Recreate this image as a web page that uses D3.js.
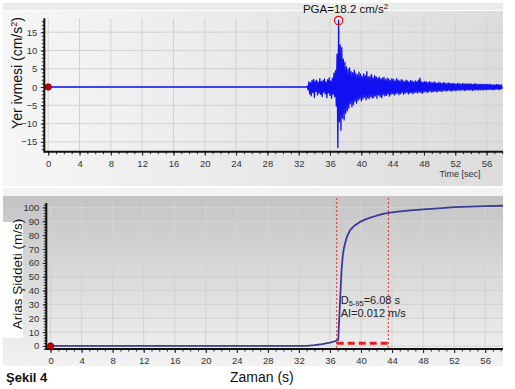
<!DOCTYPE html>
<html><head><meta charset="utf-8">
<script src="https://cdn.jsdelivr.net/npm/d3@7"></script>
<style>
body{margin:0;background:#fff}
svg{display:block}
text{font-family:"Liberation Sans",Arial,sans-serif}
</style>
</head><body>
<svg id="c" width="515" height="389"></svg>
<script>
// ---------- data ----------
const xTickLabels = [0,4,8,12,16,20,24,28,32,36,40,44,48,52,56];
const accYTicks = [-15,-10,-5,0,5,10,15];
const ariasYTicks = [0,10,20,30,40,50,60,70,80,90,100];

// ground acceleration record (cm/s2), sampled every 0.1 s from 33.0 s
const accStart = 33.0, accStep = 0.1;
const accValues = [
 0,0.2,-0.8,1.4,-1.9,1.2,-2.4,1.8,-1.5,2.1,
 -2.8,1.6,-1.2,1.9,-2.2,1.3,-1.7,2.3,-2.0,1.5,
 -2.6,1.8,-1.4,2.2,-1.9,1.4,-2.9,2.0,-1.6,2.5,
 -2.3,1.7,-3.1,2.4,-2.0,3.8,-2.6,4.5,-5.2,9.0,
 -16.6,18.2,-9.5,11.5,-11.8,10.8,-8.5,7.6,-9.0,6.8,
 -7.2,5.5,-6.5,4.8,-5.8,5.2,-4.6,4.2,-5.4,3.9,
 -4.8,4.6,-3.9,3.7,-4.4,3.3,-3.6,4.1,-3.2,3.5,
 -3.8,2.9,-3.3,3.6,-2.8,3.1,-3.5,4.2,-2.9,2.7,
 -3.2,3.0,-2.6,3.4,-3.0,2.5,-2.8,3.1,-2.4,2.8,
 -3.1,2.4,-2.2,2.7,-2.6,2.2,-2.9,2.5,-2.1,2.6,
 -2.4,2.0,-2.3,2.4,-1.9,2.2,-2.5,1.8,-2.0,2.3,
 -1.8,2.1,-2.2,1.7,-1.9,2.3,-1.6,1.9,-2.1,1.6,
 -1.8,2.0,-1.5,1.8,-2.0,1.5,-1.7,1.9,-1.4,1.7,
 -1.9,1.4,-1.6,1.8,-1.5,1.6,-1.8,1.4,-1.5,1.7,
 -1.4,1.5,-1.6,1.9,-1.3,2.4,-1.5,1.4,-1.7,1.3,
 -1.4,1.5,-1.2,1.4,-1.5,1.2,-1.3,1.5,-1.1,1.3,
 -1.4,1.1,-1.2,1.4,-1.1,1.2,-1.3,1.0,-1.2,1.3,
 -1.0,1.1,-1.2,1.0,-1.1,1.2,-0.9,1.1,-1.1,0.9,
 -1.0,1.1,-0.9,1.0,-1.0,0.9,-1.1,1.0,-0.8,0.9,
 -1.0,0.8,-0.9,1.0,-0.8,0.9,-0.9,0.8,-0.8,0.9,
 -0.8,0.9,-0.9,0.8,-0.8,0.9,-0.8,0.8,-0.8,0.9,
 -0.8,0.8,-0.9,0.7,-0.8,0.9,-0.7,0.8,-0.8,0.7,
 -0.8,0.7,-0.7,0.8,-0.7,0.7,-0.8,0.7,-0.7,0.7,
 -0.7,0.7,-0.7,0.7,-0.6,0.7,-0.7,0.6,-0.7,0.6,
 -0.7,0.6,-0.6,0.7,-0.6,0.6,-0.7,0.6,-0.6,0.6,
 -0.5
];
const pgaTime = 37.1, pgaValue = 18.2;

// Arias intensity (% of final)
const ariasTime  = [0,33.0,34.0,35.0,36.0,36.6,37.07,37.15,37.25,37.35,37.45,37.5,37.65,37.8,37.95,38.2,38.6,39.2,39.9,40.5,41.2,42.0,43.0,43.5,44.5,46.0,48.0,50.0,52.0,54.0,56.0,58.3];
const ariasValue = [0,0.1,0.6,1.3,2.4,3.3,4.3,14,26,38,49,55,65,70.5,74,79,83.6,87,89.6,91.2,92.6,94,95.5,96,96.8,97.7,98.6,99.3,100.2,100.6,100.9,101.2];
const d595Start = 36.87, d595End = 43.52, d595Level = 1.9;
const annot1 = {d:"D", sub:"5-95", rest:"=6.08 s"};
const annot2 = "AI=0.012 m/s";

// ---------- drawing ----------
const svg = d3.select("#c");
const defs = svg.append("defs");
const g1 = defs.append("linearGradient").attr("id","gTop").attr("x1",0).attr("x2",1).attr("y1",0).attr("y2",0);
g1.append("stop").attr("offset","0%").attr("stop-color","#f6f6f6");
g1.append("stop").attr("offset","100%").attr("stop-color","#dcdcdc");
const g2 = defs.append("linearGradient").attr("id","gBot").attr("x1",0).attr("x2",0).attr("y1",0).attr("y2",1);
g2.append("stop").attr("offset","0%").attr("stop-color","#c4c4c4");
g2.append("stop").attr("offset","100%").attr("stop-color","#f2f2f2");

// panels
svg.append("rect").attr("x",3).attr("y",3).attr("width",500).attr("height",7).attr("fill","#ebebeb");
svg.append("rect").attr("x",3).attr("y",11).attr("width",500).attr("height",175).attr("fill","url(#gTop)");
svg.append("rect").attr("x",3).attr("y",188).attr("width",500).attr("height",8).attr("fill","#f3f3f3");
svg.append("rect").attr("x",3).attr("y",196).attr("width",500).attr("height",170).attr("fill","url(#gBot)");
svg.append("rect").attr("x",0).attr("y",222).attr("width",23).attr("height",116).attr("fill","#fff");

// scales
const xT = d3.scaleLinear().domain([-0.5,58.1]).range([44.3,503]);
const yT = d3.scaleLinear().domain([-17.7,18.8]).range([151.7,18.3]);
const xB = d3.scaleLinear().domain([-0.55,58.3]).range([46.3,503]);
const yB = d3.scaleLinear().domain([-2.2,103.2]).range([349,203]);

function drawFrame(x, y, xTicks, yTicks, yMinor, xLabelPad) {
  const g = svg.append("g");
  // grid
  g.selectAll(".vg").data(xTicks).enter().append("line")
    .attr("x1",d=>x(d)).attr("x2",d=>x(d)).attr("y1",y.range()[1]).attr("y2",y.range()[0])
    .attr("stroke","#d2d2d2").attr("stroke-width",1);
  g.selectAll(".hg").data(yTicks).enter().append("line")
    .attr("x1",x.range()[0]).attr("x2",x.range()[1]).attr("y1",d=>y(d)).attr("y2",d=>y(d))
    .attr("stroke","#d2d2d2").attr("stroke-width",1);
  // minor ticks x
  const xMinor = d3.range(0, Math.floor(x.domain()[1])+1, 1);
  const axMinX = g.append("g").attr("transform",`translate(0,${y.range()[0]})`)
    .call(d3.axisBottom(x).tickValues(xMinor).tickSize(2.5).tickFormat(""));
  axMinX.select(".domain").remove();
  axMinX.selectAll("line").attr("stroke","#222");
  const axX = g.append("g").attr("transform",`translate(0,${y.range()[0]})`)
    .call(d3.axisBottom(x).tickValues(xTicks).tickSize(4).tickPadding(xLabelPad));
  axX.select(".domain").remove();
  axX.selectAll("line").attr("stroke","#222");
  axX.selectAll("text").attr("font-size","9.5px").attr("fill","#333").attr("font-family","Liberation Sans, Arial, sans-serif");
  const axMinY = g.append("g").attr("transform",`translate(${x.range()[0]},0)`)
    .call(d3.axisLeft(y).tickValues(yMinor).tickSize(2.5).tickFormat(""));
  axMinY.select(".domain").remove();
  axMinY.selectAll("line").attr("stroke","#222");
  const axY = g.append("g").attr("transform",`translate(${x.range()[0]},0)`)
    .call(d3.axisLeft(y).tickValues(yTicks).tickSize(3.5).tickPadding(3.5));
  axY.select(".domain").remove();
  axY.selectAll("line").attr("stroke","#222");
  axY.selectAll("text").attr("font-size","9.5px").attr("fill","#333").attr("font-family","Liberation Sans, Arial, sans-serif");
  // axis lines
  g.append("line").attr("x1",x.range()[0]).attr("x2",x.range()[1]).attr("y1",y.range()[0]).attr("y2",y.range()[0])
    .attr("stroke","#111").attr("stroke-width",2);
  g.append("line").attr("x1",x.range()[0]).attr("x2",x.range()[0]).attr("y1",y.range()[1]).attr("y2",y.range()[0]+1)
    .attr("stroke","#111").attr("stroke-width",2);
}

drawFrame(xT, yT, xTickLabels, accYTicks, d3.range(-17,19,1), 5);
drawFrame(xB, yB, xTickLabels, ariasYTicks, d3.range(-2,104,2), 4.5);

// acceleration trace
const accSeries = [{t:0,v:0}].concat(accValues.map((v,i)=>({t:accStart+i*accStep, v})));
svg.append("path").datum(accSeries)
  .attr("d", d3.line().x(d=>xT(d.t)).y(d=>yT(d.v)))
  .attr("fill","none").attr("stroke","#1010f0").attr("stroke-width",1.3).attr("stroke-linejoin","round");
svg.append("circle").attr("cx",xT(0)).attr("cy",yT(0)).attr("r",3.2).attr("fill","#c00000").attr("stroke","#7a0000").attr("stroke-width",0.8);
svg.append("circle").attr("cx",xT(pgaTime)).attr("cy",yT(pgaValue)).attr("r",4.2).attr("fill","none").attr("stroke","#e01010").attr("stroke-width",1.2);
const pgaT = svg.append("text").attr("x",xT(pgaTime)+7).attr("y",12.5).attr("text-anchor","middle")
  .attr("font-size","11.5px").attr("fill","#111");
pgaT.append("tspan").text("PGA="+pgaValue+" cm/s");
pgaT.append("tspan").attr("font-size","8px").attr("dy","-4").text("2");

svg.append("text").attr("x",460).attr("y",176.5).attr("text-anchor","middle").attr("font-size","9px").attr("fill","#333").text("Time [sec]");

// y label top
const yl1 = svg.append("text").attr("transform","translate(21.5,73) rotate(-90)").attr("text-anchor","middle")
  .attr("font-size","14px").attr("fill","#111");
yl1.append("tspan").text("Yer ivmesi (cm/s");
yl1.append("tspan").attr("font-size","9px").attr("dy","-5").text("2");
yl1.append("tspan").attr("dy","5").text(")");

// Arias
svg.selectAll(".dv").data([d595Start,d595End]).enter().append("line")
  .attr("x1",d=>xB(d)).attr("x2",d=>xB(d)).attr("y1",yB.range()[1]-5).attr("y2",yB.range()[0])
  .attr("stroke","#e03030").attr("stroke-width",1).attr("stroke-dasharray","2,2");
svg.append("path").datum(ariasTime.map((t,i)=>({t, v:ariasValue[i]})))
  .attr("d", d3.line().x(d=>xB(d.t)).y(d=>yB(d.v)))
  .attr("fill","none").attr("stroke","#3a3a98").attr("stroke-width",1.8).attr("stroke-linejoin","round");
svg.append("line").attr("x1",xB(d595Start)).attr("x2",xB(d595End)).attr("y1",yB(d595Level)).attr("y2",yB(d595Level))
  .attr("stroke","#e41e1e").attr("stroke-width",3).attr("stroke-dasharray","7,4");
svg.append("circle").attr("cx",xB(0)).attr("cy",yB(0)).attr("r",3.2).attr("fill","#c00000").attr("stroke","#7a0000").attr("stroke-width",0.8);

const a1 = svg.append("text").attr("x",xB(d595Start)+4).attr("y",yB(30.5)).attr("font-size","11px").attr("fill","#222");
a1.append("tspan").text(annot1.d);
a1.append("tspan").attr("font-size","7.5px").attr("dy","2").text(annot1.sub);
a1.append("tspan").attr("dy","-2").text(annot1.rest);
svg.append("text").attr("x",xB(d595Start)+4).attr("y",yB(21)).attr("font-size","11px").attr("fill","#222").text(annot2);

svg.append("text").attr("transform","translate(21.5,274) rotate(-90)").attr("text-anchor","middle")
  .attr("font-size","13.5px").attr("fill","#111").text("Arias Şiddeti (m/s)");
svg.append("text").attr("x",230).attr("y",382).attr("font-size","14px").attr("fill","#111").text("Zaman (s)");
svg.append("text").attr("x",6).attr("y",382).attr("font-size","13px").attr("font-weight","bold").attr("fill","#111").text("Şekil 4");
</script>
</body></html>
